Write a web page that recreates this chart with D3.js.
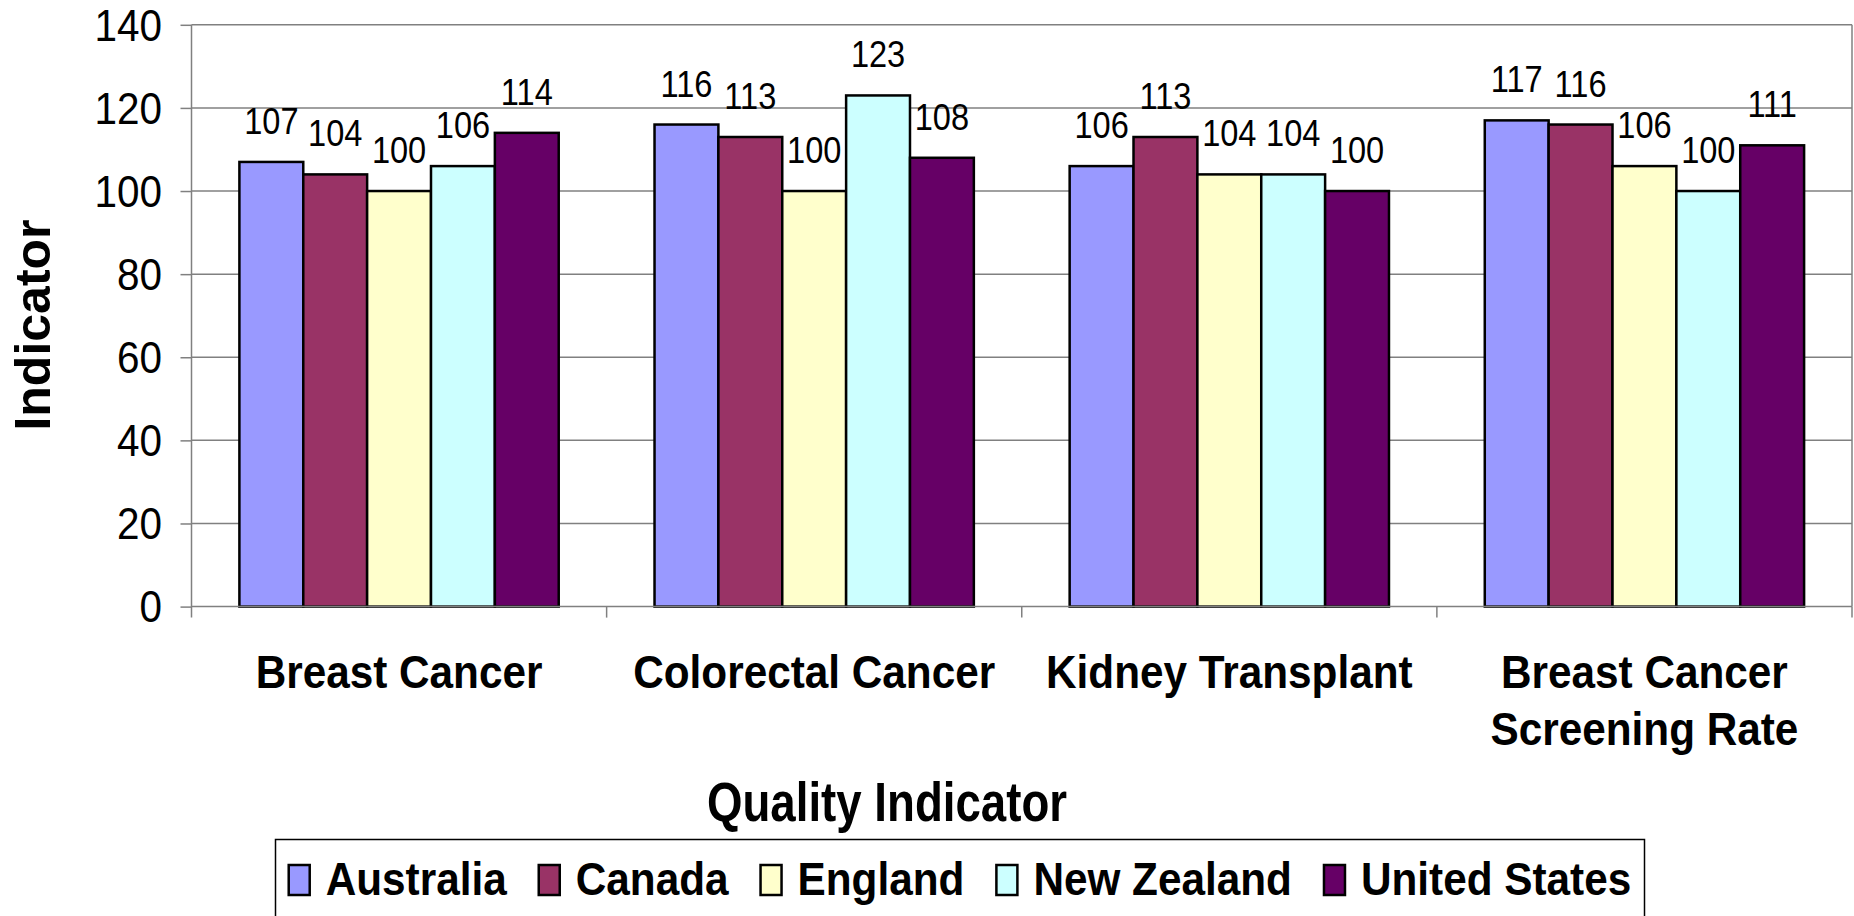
<!DOCTYPE html>
<html>
<head>
<meta charset="utf-8">
<title>Quality Indicator</title>
<script src="https://cdn.jsdelivr.net/npm/d3@7"></script>
<style>
  html, body { margin: 0; padding: 0; background: #fff; }
  svg { display: block; font-family: "Liberation Sans", Arial, sans-serif; }
</style>
</head>
<body>
<svg id="chart" width="1854" height="916"></svg>
<script>
  // chart data
  var categories = ["Breast Cancer", "Colorectal Cancer", "Kidney Transplant", "Breast Cancer Screening Rate"];
  var countries = ["Australia", "Canada", "England", "New Zealand", "United States"];
  var australia = [107, 116, 106, 117];
  var canada = [104, 113, 113, 116];
  var england = [100, 100, 104, 106];
  var newZealand = [106, 123, 104, 100];
  var unitedStates = [114, 108, 100, 111];
  var yTicks = [0, 20, 40, 60, 80, 100, 120, 140];
  var colors = ["#9999FF", "#993366", "#FFFFCC", "#CCFFFF", "#660066"];

  var seriesValues = [australia, canada, england, newZealand, unitedStates];

  var svg = d3.select("#chart");
  var plotLeft = 191.5, plotRight = 1852, plotTop = 24.8, plotBottom = 606.6;

  var x = d3.scaleBand().domain(categories).range([plotLeft, plotRight]).padding(0);
  var x1 = d3.scaleBand().domain(countries).range([0, x.bandwidth()])
      .paddingInner(0).paddingOuter(0.75);
  var y = d3.scaleLinear().domain([0, 140]).range([plotBottom, plotTop]);
  var color = d3.scaleOrdinal().domain(countries).range(colors);

  // draws text squeezed horizontally, like the original rendering
  function squeezed(sel, sx) {
    return sel.attr("transform", function() {
      var t = d3.select(this);
      return "translate(" + t.attr("data-x") + "," + t.attr("data-y") + ") scale(" + sx + ",1)";
    });
  }

  // gridlines
  svg.append("g")
    .selectAll("line")
    .data(yTicks.filter(function(d) { return d > 0; }))
    .enter().append("line")
    .attr("x1", plotLeft).attr("x2", plotRight)
    .attr("y1", function(d) { return y(d); })
    .attr("y2", function(d) { return y(d); })
    .attr("stroke", "#808080").attr("stroke-width", 1.5);

  // right border of plot area
  svg.append("line")
    .attr("x1", plotRight).attr("x2", plotRight).attr("y1", plotTop).attr("y2", plotBottom)
    .attr("stroke", "#808080").attr("stroke-width", 1.5);

  // y axis
  var yAxis = svg.append("g")
    .attr("transform", "translate(" + plotLeft + ",0)")
    .call(d3.axisLeft(y).tickValues(yTicks).tickSize(11).tickPadding(0));
  yAxis.select(".domain").remove();
  yAxis.selectAll(".tick line").attr("stroke", "#808080").attr("stroke-width", 1.5);
  yAxis.selectAll(".tick text").remove();
  svg.append("line")
    .attr("x1", plotLeft).attr("x2", plotLeft).attr("y1", plotTop).attr("y2", plotBottom + 11)
    .attr("stroke", "#808080").attr("stroke-width", 1.5);

  svg.append("g")
    .selectAll("text")
    .data(yTicks)
    .enter().append("text")
    .attr("data-x", 162)
    .attr("data-y", function(d) { return y(d); })
    .attr("dy", "0.36em")
    .attr("text-anchor", "end")
    .attr("font-size", 44)
    .attr("fill", "#000")
    .text(function(d) { return d; })
    .call(squeezed, 0.92);

  // bars
  var groups = svg.append("g")
    .selectAll("g")
    .data(categories)
    .enter().append("g")
    .attr("transform", function(d) { return "translate(" + x(d) + ",0)"; });

  var bars = groups.selectAll("g")
    .data(function(c, ci) {
      return countries.map(function(k, si) { return { country: k, value: seriesValues[si][ci] }; });
    })
    .enter().append("g");

  bars.append("rect")
    .attr("x", function(d) { return x1(d.country); })
    .attr("y", function(d) { return y(d.value); })
    .attr("width", x1.bandwidth())
    .attr("height", function(d) { return y(0) - y(d.value); })
    .attr("fill", function(d) { return color(d.country); })
    .attr("stroke", "#000")
    .attr("stroke-width", 2.5);

  bars.append("text")
    .attr("data-x", function(d) { return x1(d.country) + x1.bandwidth() / 2; })
    .attr("data-y", function(d) { return y(d.value) - 28; })
    .attr("text-anchor", "middle")
    .attr("font-size", 37)
    .attr("fill", "#000")
    .text(function(d) { return d.value; })
    .call(squeezed, 0.88);

  // x axis line and ticks
  svg.append("line")
    .attr("x1", plotLeft).attr("x2", plotRight).attr("y1", plotBottom).attr("y2", plotBottom)
    .attr("stroke", "#808080").attr("stroke-width", 1.5);
  svg.append("g")
    .selectAll("line")
    .data(categories.slice(1).map(function(c) { return x(c); }).concat([plotRight]))
    .enter().append("line")
    .attr("x1", function(d) { return d; }).attr("x2", function(d) { return d; })
    .attr("y1", plotBottom).attr("y2", plotBottom + 11)
    .attr("stroke", "#808080").attr("stroke-width", 1.5);

  // category labels, wrapped to the band width
  var catFont = 47, catScale = 0.9;
  var catLabels = svg.append("g");
  categories.forEach(function(c) {
    var words = c.split(" "), lines = [], line = [];
    var probe = catLabels.append("text").attr("font-size", catFont).attr("font-weight", "bold");
    words.forEach(function(w) {
      var test = line.concat([w]).join(" ");
      probe.text(test);
      if (line.length && probe.node().getComputedTextLength() * catScale > x.bandwidth() - 20) {
        lines.push(line.join(" "));
        line = [w];
      } else {
        line.push(w);
      }
    });
    lines.push(line.join(" "));
    probe.remove();
    lines.forEach(function(l, i) {
      catLabels.append("text")
        .attr("data-x", x(c) + x.bandwidth() / 2)
        .attr("data-y", 688 + i * 57)
        .attr("text-anchor", "middle")
        .attr("font-size", catFont)
        .attr("font-weight", "bold")
        .text(l)
        .call(squeezed, catScale);
    });
  });

  // axis titles
  svg.append("text")
    .attr("data-x", 887)
    .attr("data-y", 821)
    .attr("text-anchor", "middle")
    .attr("font-size", 55)
    .attr("font-weight", "bold")
    .text("Quality Indicator")
    .call(squeezed, 0.83);

  svg.append("text")
    .attr("transform", "translate(50,325) rotate(-90)")
    .attr("text-anchor", "middle")
    .attr("font-size", 50)
    .attr("font-weight", "bold")
    .text("Indicator");

  // legend
  var legBox = { x: 275.5, y: 839.5, w: 1369, h: 100 };
  svg.append("rect")
    .attr("x", legBox.x).attr("y", legBox.y)
    .attr("width", legBox.w).attr("height", legBox.h)
    .attr("fill", "#fff").attr("stroke", "#000").attr("stroke-width", 1.5);

  var legFont = 47, legScale = 0.9, swW = 21, swH = 30, swGap = 16, itemGap = 32;
  var legend = svg.append("g");
  var items = legend.selectAll("g")
    .data(countries)
    .enter().append("g");
  items.append("rect")
    .attr("width", swW).attr("height", swH)
    .attr("y", 865)
    .attr("fill", function(d) { return color(d); })
    .attr("stroke", "#000").attr("stroke-width", 2.5);
  var legTexts = items.append("text")
    .attr("font-size", legFont)
    .attr("font-weight", "bold")
    .text(function(d) { return d; });

  var widths = [];
  legTexts.each(function() { widths.push(this.getComputedTextLength() * legScale); });
  var total = d3.sum(widths) + countries.length * (swW + swGap) + (countries.length - 1) * itemGap;
  var cx = legBox.x + (legBox.w - total) / 2;
  items.each(function(d, i) {
    var g = d3.select(this);
    g.select("rect").attr("x", cx);
    g.select("text")
      .attr("data-x", cx + swW + swGap)
      .attr("data-y", 895)
      .call(squeezed, legScale);
    cx += swW + swGap + widths[i] + itemGap;
  });
</script>
</body>
</html>
